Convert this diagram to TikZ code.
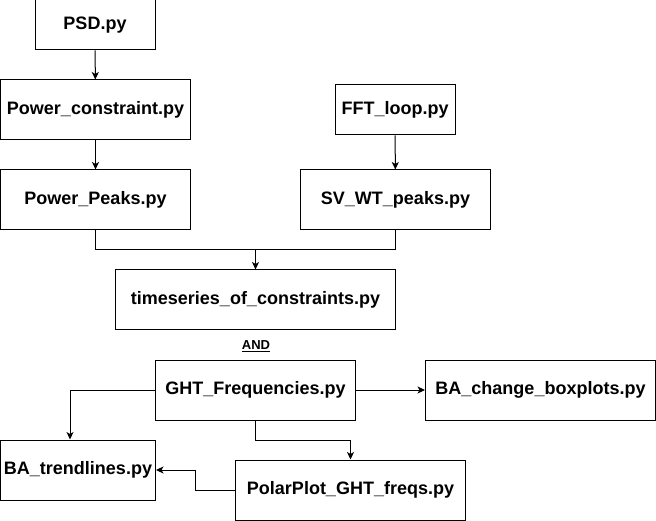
\documentclass[tikz,border=0pt]{standalone}
\usepackage{fontspec}
\setmainfont{Liberation Sans}
\usetikzlibrary{arrows.meta}
\begin{document}
\begin{tikzpicture}[x=1pt,y=-1pt,
  box/.style={draw=black,line width=1pt,fill=white,inner sep=0pt,font=\fontsize{18}{21}\selectfont\bfseries},
  conn/.style={line width=1pt,-{Stealth[length=7.5pt,width=7pt,inset=2pt]}},
  plain/.style={line width=1pt}]
\useasboundingbox (0,0) rectangle (656,521);
\path[fill=white] (0,0) rectangle (656,521);
% boxes: center, width, height
\node[box,minimum width=120pt,minimum height=50pt] (psd) at (95,25) {PSD.py};
\node[box,minimum width=190pt,minimum height=60pt] (pc) at (95.5,110) {Power\_constraint.py};
\node[box,minimum width=190pt,minimum height=60pt] (pp) at (95.5,200) {Power\_Peaks.py};
\node[box,minimum width=120pt,minimum height=50pt] (fft) at (395,110) {FFT\_loop.py};
\node[box,minimum width=190pt,minimum height=60pt] (sv) at (395.5,200) {SV\_WT\_peaks.py};
\node[box,minimum width=280pt,minimum height=60pt] (ts) at (255.5,300) {timeseries\_of\_constraints.py};
\node[font=\fontsize{13}{15}\selectfont\bfseries] (and) at (256,346) {\underline{AND}};
\node[box,minimum width=200pt,minimum height=60pt] (ght) at (255.5,390) {GHT\_Frequencies.py};
\node[box,minimum width=230pt,minimum height=60pt] (bac) at (540.5,390) {BA\_change\_boxplots.py};
\node[box,minimum width=155pt,minimum height=60pt] (bat) at (78,470) {BA\_trendlines.py};
\node[box,minimum width=230pt,minimum height=60pt] (pol) at (350.5,490) {PolarPlot\_GHT\_freqs.py};
\coordinate (j) at (255.5,250);
% connectors
\draw[conn] (psd) -- (pc);
\draw[conn] (pc) -- (pp);
\draw[conn] (fft) -- (sv);
\draw[plain] (pp.south) |- (j);
\draw[plain] (sv.south) |- (j);
\draw[conn] (j) -- (ts.north);
\draw[conn] (ght.west) -| ([xshift=-8pt]bat.north);
\draw[conn] (ght.east) -- (bac.west);
\draw[conn] (ght.south) |- (350.5,440) -- (pol.north);
\draw[conn] (pol.west) -| (195,470) -- (bat.east);
\end{tikzpicture}
\end{document}
